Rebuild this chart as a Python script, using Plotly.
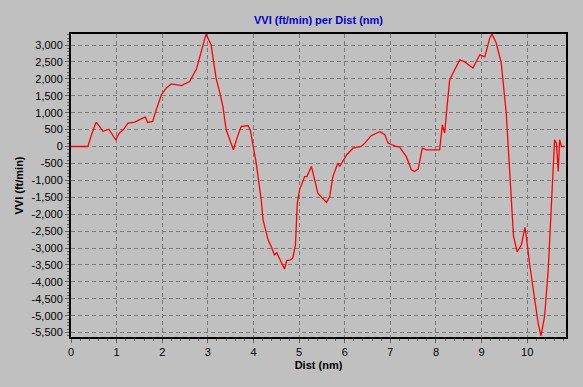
import plotly.graph_objects as go

dist_nm = [0, 0.37, 0.45, 0.55, 0.62, 0.70, 0.83, 0.90, 0.98, 1.06, 1.15, 1.25, 1.40, 1.57, 1.63, 1.68,
           1.79, 1.87, 1.98, 2.09, 2.20, 2.42, 2.60, 2.75, 2.86, 2.96, 3.07, 3.18, 3.26, 3.33, 3.40, 3.56, 3.65,
           3.73, 3.88, 3.93, 4.06, 4.17, 4.21, 4.32, 4.39, 4.46, 4.51, 4.57, 4.68, 4.73, 4.81, 4.86, 4.92,
           4.96, 5.01, 5.12, 5.17, 5.27, 5.41, 5.60, 5.67, 5.74, 5.85, 5.89, 6.04, 6.18, 6.36, 6.44, 6.58,
           6.77, 6.88, 6.95, 7.13, 7.20, 7.35, 7.46, 7.53, 7.61, 7.70, 7.79, 7.90, 8.02, 8.08, 8.14, 8.19,
           8.25, 8.30, 8.41, 8.52, 8.63, 8.81, 8.96, 9.07, 9.18, 9.23, 9.32, 9.43, 9.54, 9.63, 9.70, 9.78,
           9.87, 9.95, 9.98, 10.05, 10.16, 10.24, 10.30, 10.38, 10.46, 10.53, 10.60, 10.64, 10.68, 10.71,
           10.75, 10.82]
vvi_ftmin = [0, 0, 350, 720, 600, 450, 510, 350, 200, 400, 500, 690, 720, 840, 870, 710,
             740, 1090, 1530, 1730, 1850, 1800, 1920, 2290, 2860, 3320, 3010, 2020, 1600, 1180, 500, -100, 300,
             590, 620, 490, -490, -1580, -2170, -2760, -2960, -3200, -3140, -3300, -3620, -3370, -3350, -3300, -2910,
             -1680, -1280, -890, -890, -590, -1380, -1650, -1480, -890, -490, -590, -250, -50, 0, 100, 320,
             440, 350, 100, 0, -10, -300, -690, -740, -670, -50, -100, -100, -80, -100, 640, 400,
             1280, 1970, 2270, 2560, 2500, 2320, 2710, 2650, 3210, 3320, 3060, 2470, 990, -1280, -2660, -3110,
             -2910, -2390, -2660, -3450, -4440, -5230, -5600, -5030, -3650, -1680, 200, 100, -740, 200,
             0, 0]

y_tick_vals = list(range(-5500, 3001, 500))
y_tick_text = [f"{v:,}" for v in y_tick_vals]
x_tick_vals = list(range(0, 11))
x_tick_text = [str(v) for v in x_tick_vals]

bg = "#C0C0C0"
font_family = "Liberation Sans, Arial, sans-serif"

fig = go.Figure()
fig.add_trace(go.Scatter(x=dist_nm, y=vvi_ftmin, mode="lines",
                         line=dict(color="#FF0000", width=1.3), hoverinfo="skip"))

fig.update_layout(
    width=583, height=387,
    margin=dict(l=71, r=17, t=34, b=50, autoexpand=False),
    paper_bgcolor=bg, plot_bgcolor=bg,
    showlegend=False,
    font=dict(family=font_family, size=11, color="#000000"),
    title=dict(text="<b>VVI (ft/min) per Dist (nm)</b>", x=0.5, xanchor="center",
               xref="paper", y=1 - 20 / 387, yref="container", yanchor="middle",
               automargin=False,
               font=dict(family=font_family, size=11, color="#0000CC")),
)
fig.update_xaxes(
    range=[0, 10.85], tickvals=x_tick_vals, ticktext=x_tick_text, automargin=False,
    showgrid=True, gridcolor="#7A7A7A", griddash="4px,3px", gridwidth=1,
    zeroline=False, showline=True, linecolor="#000000", linewidth=2, mirror=True,
    ticks="outside", ticklen=4, tickcolor="#606060",
    minor=dict(dtick=0.2, ticks="outside", ticklen=2, tickcolor="#606060", showgrid=False),
    title=dict(text="<b>Dist (nm)</b>", standoff=4, font=dict(size=11)),
    tickfont=dict(size=11),
)
fig.update_yaxes(
    range=[-5630, 3325], tickvals=y_tick_vals, ticktext=y_tick_text, automargin=False,
    showgrid=True, gridcolor="#7A7A7A", griddash="4px,3px", gridwidth=1,
    zeroline=False, showline=True, linecolor="#000000", linewidth=2, mirror=True,
    ticks="outside", ticklen=4, tickcolor="#606060",
    minor=dict(dtick=100, ticks="outside", ticklen=2, tickcolor="#606060", showgrid=False),
    title=dict(text="<b>VVI (ft/min)</b>", standoff=6, font=dict(size=11)),
    tickfont=dict(size=11),
)

fig.write_html("out.html", config={"displayModeBar": False},
               post_script="document.body.style.margin='0';document.body.style.background='#C0C0C0';")
